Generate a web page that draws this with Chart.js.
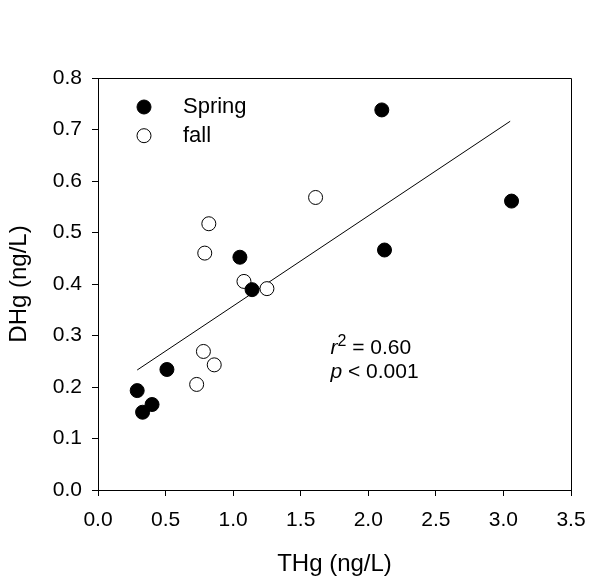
<!DOCTYPE html>
<html>
<head>
<meta charset="utf-8">
<script src="https://cdn.jsdelivr.net/npm/chart.js@4/dist/chart.umd.min.js"></script>
<style>
  html, body { margin: 0; padding: 0; background: #fff; }
  canvas { display: block; }
</style>
</head>
<body>
<canvas id="chart" width="612" height="584"></canvas>
<script>
// Spring samples (filled circles)
const springTHg = [0.29, 0.33, 0.40, 0.51, 1.05, 1.14, 2.10, 2.12, 3.06];
const springDHg = [0.193, 0.151, 0.166, 0.234, 0.452, 0.389, 0.738, 0.466, 0.561];

// fall samples (open circles)
const fallTHg = [0.73, 0.78, 0.86, 0.79, 0.82, 1.08, 1.25, 1.61];
const fallDHg = [0.205, 0.269, 0.243, 0.460, 0.517, 0.405, 0.391, 0.568];

// regression line end points
const fitTHg = [0.29, 3.05];
const fitDHg = [0.233, 0.716];

const seriesLabels = ['Spring', 'fall'];
const statsText = { r2: '0.60', p: '0.001' };
const statsAt = { x: 1.72, y: 0.275 };

const FONT = '"Liberation Sans", Arial, sans-serif';

function toPoints(xs, ys) {
    return xs.map((x, i) => ({ x: x, y: ys[i] }));
}

// full box around the plot + legend + r²/p text
const framePlugin = {
    id: 'frame',
    afterDraw(chart) {
        const ctx = chart.ctx;
        const a = chart.chartArea;
        ctx.save();
        ctx.strokeStyle = '#000';
        ctx.lineWidth = 1;
        ctx.beginPath();
        ctx.moveTo(Math.round(a.left) + 0.5, Math.round(a.top) + 0.5);
        ctx.lineTo(Math.round(a.right) + 0.5, Math.round(a.top) + 0.5);
        ctx.lineTo(Math.round(a.right) + 0.5, Math.round(a.bottom) + 0.5);
        ctx.stroke();

        // legend
        ctx.font = '22px ' + FONT;
        ctx.textBaseline = 'middle';
        ctx.textAlign = 'left';
        [0, 1].forEach(i => {
            const ds = chart.data.datasets[i];
            const cy = a.top + 29 + i * 28.7;
            ctx.beginPath();
            ctx.arc(a.left + 46, cy, ds.pointRadius, 0, Math.PI * 2);
            ctx.fillStyle = ds.pointBackgroundColor;
            ctx.fill();
            ctx.lineWidth = ds.pointBorderWidth;
            ctx.strokeStyle = ds.pointBorderColor;
            ctx.stroke();
            ctx.fillStyle = '#000';
            ctx.fillText(ds.label, a.left + 85, cy);
        });

        // stats
        const xs = chart.scales.x, ys = chart.scales.y;
        const x = xs.getPixelForValue(statsAt.x);
        const y1 = ys.getPixelForValue(statsAt.y);
        const y2 = y1 + 24;
        ctx.fillStyle = '#000';
        ctx.font = 'italic 21px ' + FONT;
        ctx.fillText('r', x, y1);
        let w = ctx.measureText('r').width;
        ctx.font = '16px ' + FONT;
        ctx.fillText('2', x + w, y1 - 7);
        w += ctx.measureText('2').width;
        ctx.font = '21px ' + FONT;
        ctx.fillText(' = ' + statsText.r2, x + w, y1);

        ctx.font = 'italic 21px ' + FONT;
        ctx.fillText('p', x, y2);
        const wp = ctx.measureText('p').width;
        ctx.font = '21px ' + FONT;
        ctx.fillText(' < ' + statsText.p, x + wp, y2);
        ctx.restore();
    }
};

const tickFont = { family: FONT, size: 21 };
const titleFont = { family: FONT, size: 24 };

new Chart(document.getElementById('chart'), {
    type: 'scatter',
    data: {
        datasets: [
            {
                label: seriesLabels[0],
                data: toPoints(springTHg, springDHg),
                pointRadius: 7,
                pointHoverRadius: 7,
                pointBackgroundColor: '#000',
                pointBorderColor: '#000',
                pointBorderWidth: 1
            },
            {
                label: seriesLabels[1],
                data: toPoints(fallTHg, fallDHg),
                pointRadius: 7,
                pointHoverRadius: 7,
                pointBackgroundColor: '#fff',
                pointBorderColor: '#000',
                pointBorderWidth: 1
            },
            {
                label: 'fit',
                type: 'line',
                data: toPoints(fitTHg, fitDHg),
                borderColor: '#000',
                borderWidth: 1,
                pointRadius: 0,
                fill: false,
                tension: 0
            }
        ]
    },
    options: {
        responsive: false,
        devicePixelRatio: 1,
        animation: false,
        layout: { padding: { top: 78, right: 41, left: 0, bottom: 0 } },
        plugins: {
            legend: { display: false },
            tooltip: { enabled: false }
        },
        scales: {
            x: {
                type: 'linear',
                min: 0,
                max: 3.5,
                afterFit: s => { s.height = 94; },
                border: { color: '#000', width: 1 },
                grid: { drawOnChartArea: false, drawTicks: true, tickLength: 6, color: '#000' },
                ticks: {
                    stepSize: 0.5,
                    color: '#000',
                    font: tickFont,
                    padding: 12,
                    callback: v => v.toFixed(1)
                },
                title: {
                    display: true,
                    text: 'THg (ng/L)',
                    color: '#000',
                    font: titleFont,
                    padding: { top: 0, bottom: 5 }
                }
            },
            y: {
                type: 'linear',
                min: 0,
                max: 0.8,
                afterFit: s => { s.width = 98; },
                border: { color: '#000', width: 1 },
                grid: { drawOnChartArea: false, drawTicks: true, tickLength: 6, color: '#000' },
                ticks: {
                    stepSize: 0.1,
                    color: '#000',
                    font: tickFont,
                    padding: 10,
                    callback: v => v.toFixed(1)
                },
                title: {
                    display: true,
                    text: 'DHg (ng/L)',
                    color: '#000',
                    font: titleFont,
                    padding: { top: 5, bottom: 0 }
                }
            }
        }
    },
    plugins: [framePlugin]
});
</script>
</body>
</html>
